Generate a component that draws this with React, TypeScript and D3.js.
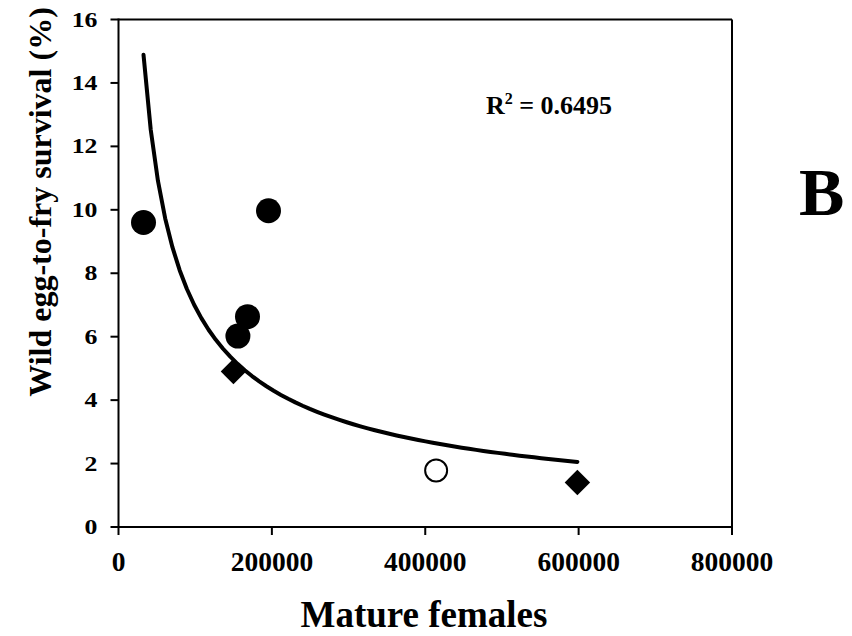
import React from "react";
import * as d3 from "d3";

const W = 852;
const H = 636;

// Filled circles
const circleFemales = [32600, 155700, 168200, 195600];
const circleSurvival = [9.6, 6.02, 6.63, 9.97];
// Filled diamonds
const diamondFemales = [149900, 598400];
const diamondSurvival = [4.9, 1.4];
// Open circle
const openFemales = [414200];
const openSurvival = [1.78];

const xTicks = [0, 200000, 400000, 600000, 800000];
const yTicks = [0, 2, 4, 6, 8, 10, 12, 14, 16];
const r2Label = "0.6495";

const FONT = "'Liberation Serif', 'Times New Roman', serif";

export default function App() {
  const x = d3.scaleLinear().domain([0, 800000]).range([118.5, 732]);
  const y = d3.scaleLinear().domain([0, 16]).range([527, 19.5]);

  // power trendline fitted on all points (least squares in log-log space)
  const allX = [...circleFemales, ...diamondFemales, ...openFemales];
  const allY = [...circleSurvival, ...diamondSurvival, ...openSurvival];
  const lx = allX.map(Math.log);
  const ly = allY.map(Math.log);
  const mx = d3.mean(lx)!;
  const my = d3.mean(ly)!;
  const b =
    d3.sum(lx.map((v, i) => (v - mx) * (ly[i] - my))) /
    d3.sum(lx.map((v) => (v - mx) * (v - mx)));
  const a = Math.exp(my - b * mx);
  const [x0, x1] = d3.extent(allX) as [number, number];
  const n = 60;
  const curvePts: [number, number][] = d3.range(n + 1).map((i) => {
    const xv = x0 + ((x1 - x0) * i) / n;
    return [xv, a * Math.pow(xv, b)];
  });
  const line = d3
    .line<[number, number]>()
    .x((d) => x(d[0]))
    .y((d) => y(d[1]));

  const circleSym = d3.symbol().type(d3.symbolCircle).size(Math.PI * 12.5 * 12.5)();
  const squareSym = d3.symbol().type(d3.symbolSquare).size(18 * 18)();

  const left = x(0);
  const right = x(800000);
  const top = y(16);
  const bottom = y(0);

  return (
    <svg
      width={W}
      height={H}
      style={{ position: "absolute", left: 0, top: 0, background: "#fff" }}
      fontFamily={FONT}
      fontWeight="bold"
    >
      <rect x={0} y={0} width={W} height={H} fill="#fff" />
      {/* frame */}
      <line x1={left} x2={right} y1={top} y2={top} stroke="#000" strokeWidth={2} />
      <line x1={right} x2={right} y1={top} y2={bottom} stroke="#000" strokeWidth={2} />
      <line x1={left} x2={left} y1={top - 1} y2={bottom + 1} stroke="#000" strokeWidth={2} />
      <line x1={left - 1} x2={right + 1} y1={bottom} y2={bottom} stroke="#000" strokeWidth={2} />

      {/* y ticks */}
      {yTicks.map((t) => (
        <g key={"y" + t}>
          <line x1={left - 8} x2={left} y1={y(t)} y2={y(t)} stroke="#000" strokeWidth={2} />
          <text
            transform={`translate(97.5,${y(t) + 7}) scale(1.2,1)`}
            textAnchor="end"
            fontSize={21.5}
            fill="#000"
          >
            {t}
          </text>
        </g>
      ))}

      {/* x ticks */}
      {xTicks.map((t) => (
        <g key={"x" + t}>
          <line x1={x(t)} x2={x(t)} y1={bottom} y2={bottom + 8} stroke="#000" strokeWidth={2} />
          <text x={x(t)} y={570.5} textAnchor="middle" fontSize={27.5} fill="#000">
            {t}
          </text>
        </g>
      ))}

      {/* trendline */}
      <path d={line(curvePts) || ""} fill="none" stroke="#000" strokeWidth={4} strokeLinejoin="round" strokeLinecap="round" />

      {/* points */}
      {circleFemales.map((v, i) => (
        <path key={"c" + i} d={circleSym || ""} transform={`translate(${x(v)},${y(circleSurvival[i])})`} fill="#000" />
      ))}
      {diamondFemales.map((v, i) => (
        <path
          key={"d" + i}
          d={squareSym || ""}
          transform={`translate(${x(v)},${y(diamondSurvival[i])}) rotate(45)`}
          fill="#000"
        />
      ))}
      {openFemales.map((v, i) => (
        <circle key={"o" + i} cx={x(v)} cy={y(openSurvival[i])} r={11} fill="#fff" stroke="#000" strokeWidth={2} />
      ))}

      {/* R² annotation */}
      <text x={486} y={114} fontSize={26} fill="#000">
        R<tspan fontSize={16} dy={-10}>2</tspan>
        <tspan dy={10}> = {r2Label}</tspan>
      </text>

      {/* panel letter */}
      <text x={799} y={215} fontSize={68} fill="#000">
        B
      </text>

      {/* axis titles */}
      <text x={424} y={627} textAnchor="middle" fontSize={37} fill="#000">
        Mature females
      </text>
      <text
        transform={`translate(51,202) rotate(-90)`}
        textAnchor="middle"
        fontSize={32}
        fill="#000"
      >
        Wild egg-to-fry survival (%)
      </text>
    </svg>
  );
}
